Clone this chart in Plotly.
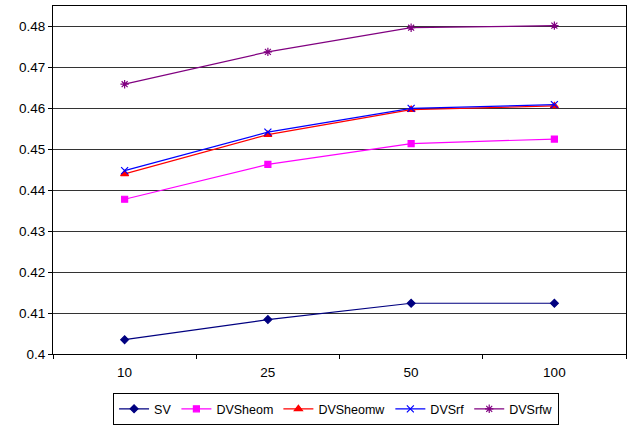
import plotly.graph_objects as go

# Sample sizes on the category axis
categories = ["10", "25", "50", "100"]

# Accuracy per method
sv = [0.4035, 0.4084, 0.4124, 0.4124]
dvsheom = [0.4378, 0.4463, 0.4514, 0.4525]
dvsheomw = [0.4440, 0.4536, 0.4597, 0.4606]
dvsrf = [0.4448, 0.4542, 0.4600, 0.4609]
dvsrfw = [0.4659, 0.4738, 0.4797, 0.4802]

series = [
    ("SV", sv, "#000080", "diamond", 6),
    ("DVSheom", dvsheom, "#FF00FF", "square", 6),
    ("DVSheomw", dvsheomw, "#FF0000", "triangle-up", 7),
    ("DVSrf", dvsrf, "#0000FF", "x-thin-open", 7),
    ("DVSrfw", dvsrfw, "#800080", "asterisk-open", 7),
]

fig = go.Figure()
for name, vals, color, symbol, size in series:
    fig.add_trace(go.Scatter(
        x=categories, y=vals, name=name, mode="lines+markers",
        line=dict(color=color, width=1.2),
        marker=dict(symbol=symbol, size=size, color=color,
                    line=dict(color=color, width=1.2)),
    ))

fig.update_layout(
    width=631, height=426,
    margin=dict(l=53, r=5, t=6, b=72, autoexpand=False),
    paper_bgcolor="white", plot_bgcolor="white",
    font=dict(family="Liberation Sans, Arial, sans-serif", size=13.5, color="black"),
    showlegend=True,
    legend=dict(
        orientation="h", x=0.494, xanchor="center",
        yref="container", y=0.077, yanchor="top",
        bordercolor="black", borderwidth=1, font=dict(size=12.5),
        itemwidth=30, tracegroupgap=0,
    ),
    xaxis=dict(
        type="category", tickson="boundaries", ticks="outside", ticklen=4,
        tickcolor="black", showline=True, linecolor="black", linewidth=1,
        mirror=True, showgrid=False, range=[-0.5, 3.5], ticklabelstandoff=6,
    ),
    yaxis=dict(
        range=[0.4, 0.485], tickvals=[0.4, 0.41, 0.42, 0.43, 0.44, 0.45, 0.46, 0.47, 0.48],
        ticktext=["0.4", "0.41", "0.42", "0.43", "0.44", "0.45", "0.46", "0.47", "0.48"],
        ticks="outside", ticklen=4, tickcolor="black",
        showline=True, linecolor="black", linewidth=1, mirror=True,
        showgrid=True, gridcolor="#333333", gridwidth=1, zeroline=False,
    ),
)

fig.write_html("out.html")
